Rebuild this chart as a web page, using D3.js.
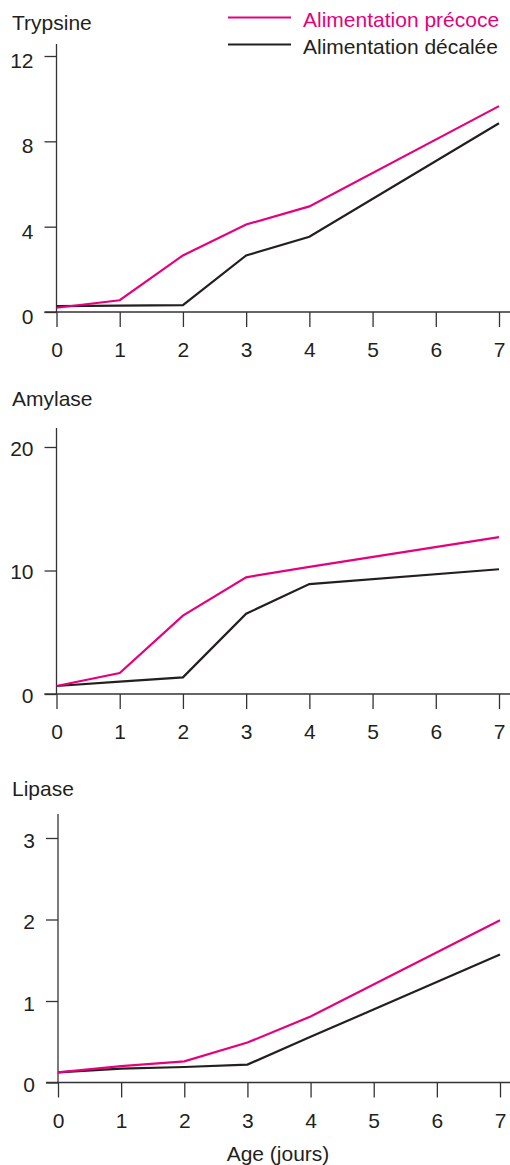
<!DOCTYPE html>
<html>
<head>
<meta charset="utf-8">
<script src="https://cdn.jsdelivr.net/npm/d3@7"></script>
<style>
  html, body { margin: 0; padding: 0; background: #fff; }
  svg { display: block; font-family: "Liberation Sans", Arial, sans-serif; }
</style>
</head>
<body>
<div id="chart"></div>
<script>
// ── Data ──
const days = [0, 1, 2, 3, 4, 7];
const xTicks = [0, 1, 2, 3, 4, 5, 6, 7];
const seriesNames = ["Alimentation précoce", "Alimentation décalée"];

const trypsinePrecoce = [0.2, 0.55, 2.65, 4.1, 4.95, 9.65];
const trypsineDecalee = [0.28, 0.3, 0.32, 2.65, 3.53, 8.85];
const trypsineTicks = [0, 4, 8, 12];

const amylasePrecoce = [0.65, 1.7, 6.35, 9.45, 10.3, 12.7];
const amylaseDecalee = [0.65, 1.0, 1.35, 6.5, 8.9, 10.1];
const amylaseTicks = [0, 10, 20];

const lipasePrecoce = [0.125, 0.2, 0.26, 0.49, 0.81, 1.99];
const lipaseDecalee = [0.125, 0.17, 0.19, 0.22, 0.56, 1.57];
const lipaseTicks = [0, 1, 2, 3];

const C = { pink: "#e5007d", black: "#231f20", axis: "#333" };
const FONT = 21;
const fmtInt = d3.format("d");

const W = 510, H = 1165;

const svg = d3.select("#chart").append("svg")
  .attr("width", W).attr("height", H)
  .attr("viewBox", `0 0 ${W} ${H}`);

// ── Panels ──
const panels = [
  { title: "Trypsine", a: trypsinePrecoce, b: trypsineDecalee, ticks: trypsineTicks,
    y0: 312, y1: 56, top: 44, x0: 56.5, x1: 499, titleY: 30, labDy: 4 },
  { title: "Amylase", a: amylasePrecoce, b: amylaseDecalee, ticks: amylaseTicks,
    y0: 694, y1: 447, top: 428, x0: 56.5, x1: 499, titleY: 406, labDy: 1 },
  { title: "Lipase", a: lipasePrecoce, b: lipaseDecalee, ticks: lipaseTicks,
    y0: 1082.5, y1: 838, top: 814, x0: 58, x1: 500, titleY: 796, labDy: 2 }
];

panels.forEach(p => {
  const x = d3.scaleLinear().domain([0, 7]).range([p.x0, p.x1]);
  const yMax = d3.max(p.ticks);
  const y = d3.scaleLinear().domain([0, yMax]).range([p.y0, p.y1]);
  const g = svg.append("g");

  g.append("text")
    .attr("x", 12).attr("y", p.titleY)
    .attr("font-size", FONT).attr("fill", C.black)
    .text(p.title);

  // ── Axes ──
  const xAxisG = g.append("g")
    .attr("transform", `translate(0,${p.y0})`)
    .call(d3.axisBottom(x).tickValues(xTicks).tickFormat(fmtInt)
      .tickSize(15).tickSizeOuter(0));
  xAxisG.select(".domain").remove();
  xAxisG.selectAll("line").attr("stroke", C.axis).attr("stroke-width", 1.3);
  xAxisG.selectAll("text")
    .attr("y", 45).attr("dy", 0)
    .attr("font-size", FONT).attr("font-family", null)
    .attr("fill", C.black);

  const yAxisG = g.append("g")
    .attr("transform", `translate(${p.x0},0)`)
    .call(d3.axisLeft(y).tickValues(p.ticks).tickFormat(fmtInt)
      .tickSize(12).tickSizeOuter(0));
  yAxisG.select(".domain").remove();
  yAxisG.selectAll("line").attr("stroke", C.axis).attr("stroke-width", 1.3);
  yAxisG.selectAll("text")
    .attr("x", -23).attr("dy", "0.35em")
    .attr("transform", `translate(0,${p.labDy})`)
    .attr("font-size", FONT).attr("font-family", null)
    .attr("fill", C.black);

  g.append("line")
    .attr("x1", p.x0 - 12).attr("x2", W)
    .attr("y1", p.y0).attr("y2", p.y0)
    .attr("stroke", C.axis).attr("stroke-width", 1.3);
  g.append("line")
    .attr("x1", p.x0).attr("x2", p.x0)
    .attr("y1", p.top).attr("y2", p.y0)
    .attr("stroke", C.axis).attr("stroke-width", 1.3);

  // ── Lines ──
  const line = d3.line().x((d, i) => x(days[i])).y(d => y(d));
  [[p.b, C.black], [p.a, C.pink]].forEach(([vals, col]) => {
    g.append("path")
      .datum(vals)
      .attr("d", line)
      .attr("fill", "none")
      .attr("stroke", col)
      .attr("stroke-width", 2.2)
      .attr("stroke-linejoin", "miter");
  });
});

// ── Legend ──
const legend = svg.append("g");
[[seriesNames[0], C.pink, 17.5], [seriesNames[1], C.black, 44.5]].forEach(([name, col, ly]) => {
  legend.append("line")
    .attr("x1", 228).attr("x2", 291)
    .attr("y1", ly).attr("y2", ly)
    .attr("stroke", col).attr("stroke-width", 2.2);
  legend.append("text")
    .attr("x", 303).attr("y", ly + 9)
    .attr("font-size", FONT).attr("fill", col)
    .text(name);
});

// ── X title ──
svg.append("text")
  .attr("x", 278).attr("y", 1161)
  .attr("text-anchor", "middle")
  .attr("font-size", FONT).attr("fill", C.black)
  .text("Age (jours)");
</script>
</body>
</html>
